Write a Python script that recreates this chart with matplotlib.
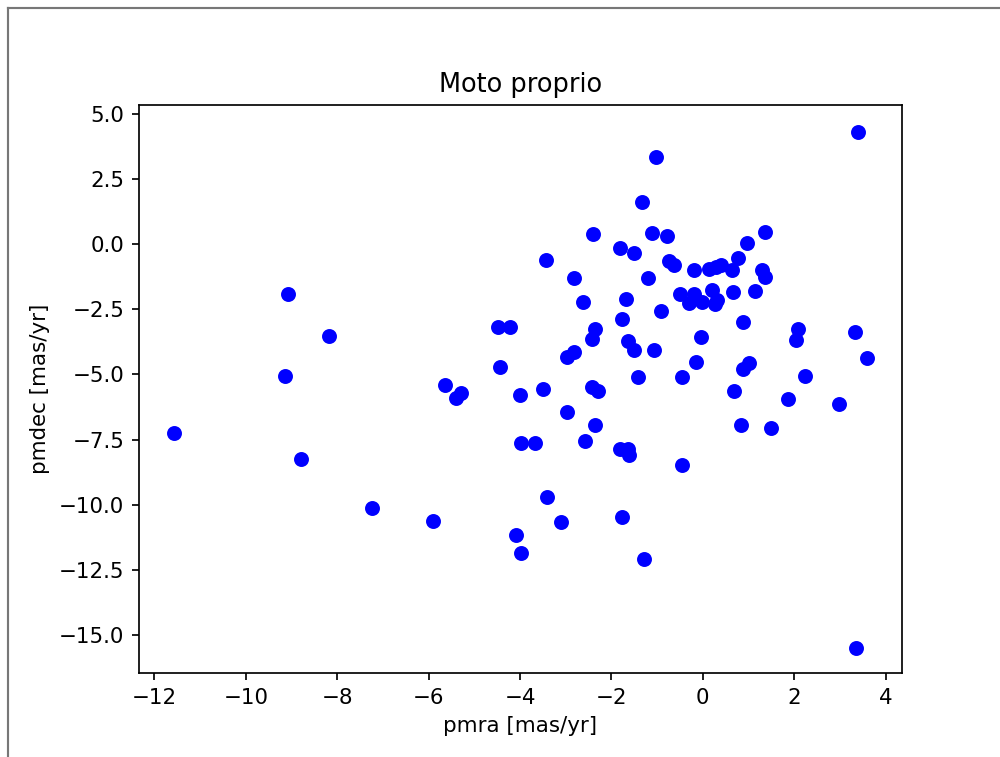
import matplotlib
matplotlib.use('Agg')
import matplotlib.pyplot as plt
from matplotlib.lines import Line2D

# proper motion of the sample stars [mas/yr]
pmra = [-11.57, -9.08, -9.15, -8.79, -8.19, -7.23, -5.91, -5.64, -5.40, -5.29,
        -4.48, -4.22, -4.43, -4.09, -3.98, -4.01, -3.99, -3.67, -3.50, -3.44,
        -3.40, -3.10, -2.98, -2.97, -2.83, -2.81, -2.63, -2.58, -2.41, -2.43,
        -2.36, -2.43, -2.30, -2.36, -1.82, -1.81, -1.76, -1.76, -1.68, -1.64,
        -1.63, -1.61, -1.50, -1.50, -1.42, -1.33, -1.28, -1.20, -1.12, -1.03,
        -1.06, -0.92, -0.78, -0.74, -0.64, -0.51, -0.46, -0.45, -0.30, -0.20,
        -0.20, -0.15, -0.04, -0.03, 0.13, 0.20, 0.30, 0.26, 0.28, 0.39,
        0.63, 0.66, 0.68, 0.77, 0.84, 0.87, 0.88, 0.96, 1.01, 1.14,
        1.30, 1.37, 1.37, 1.49, 1.87, 2.04, 2.08, 2.23, 2.98, 3.32,
        3.40, 3.36, 3.59]
pmdec = [-7.25, -1.93, -5.05, -8.24, -3.51, -10.11, -10.61, -5.40, -5.91, -5.70,
         -3.18, -3.18, -4.71, -11.15, -11.85, -5.77, -7.64, -7.61, -5.57, -0.60,
         -9.68, -10.64, -6.45, -4.33, -4.13, -1.31, -2.23, -7.55, 0.38, -3.64,
         -3.26, -5.47, -5.64, -6.93, -0.14, -7.84, -2.86, -10.47, -2.10, -3.70,
         -7.87, -8.10, -0.36, -4.06, -5.11, 1.60, -12.07, -1.31, 0.41, 3.34,
         -4.06, -2.57, 0.31, -0.64, -0.79, -1.93, -8.47, -5.10, -2.28, -1.92,
         -1.00, -4.53, -3.55, -2.21, -0.97, -1.76, -2.15, -2.30, -0.89, -0.79,
         -1.00, -1.85, -5.63, -0.52, -6.93, -2.99, -4.79, 0.03, -4.57, -1.80,
         -1.00, -1.25, 0.45, -7.05, -5.94, -3.68, -3.27, -5.07, -6.13, -3.38,
         4.30, -15.49, -4.37]

DPI = 153.6
fig = plt.figure(figsize=(1000 / DPI, 757 / DPI), dpi=DPI)
ax = fig.add_axes([0.1393, 0.1114, 0.7624, 0.750])

ax.scatter(pmra, pmdec, c='b')
ax.set_xlim(-12.33, 4.35)
ax.set_ylim(-16.43, 5.33)
ax.set_xticks([-12, -10, -8, -6, -4, -2, 0, 2, 4])
ax.set_yticks([-15.0, -12.5, -10.0, -7.5, -5.0, -2.5, 0.0, 2.5, 5.0])
ax.set_xlabel('pmra [mas/yr]')
ax.set_ylabel('pmdec [mas/yr]')
ax.set_title('Moto proprio')

# grey frame of the screenshot (top and left edges only)
fig.add_artist(Line2D([7.5 / 1000, 1.0], [1 - 7.5 / 757, 1 - 7.5 / 757],
                      transform=fig.transFigure, color='#777777', lw=1.0))
fig.add_artist(Line2D([7.5 / 1000, 7.5 / 1000], [0.0, 1 - 7.5 / 757],
                      transform=fig.transFigure, color='#777777', lw=1.0))

fig.savefig('out.png', dpi=DPI)
